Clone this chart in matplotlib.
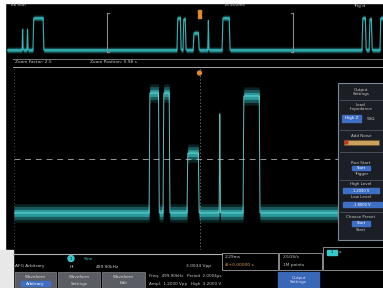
import numpy as np
import matplotlib
matplotlib.use("Agg")
import matplotlib.pyplot as plt
from matplotlib.patches import Rectangle, Circle

# ---------------- data ----------------
# main (zoomed) waveform, time in divisions, level in divisions
main_baseline = -2.37
main_starts = [4.17, 4.60, 5.34, 6.33, 7.07]
main_ends = [4.48, 4.81, 5.71, 6.37, 7.59]
main_levels = [2.9, 2.9, 0.26, 2.15, 2.77]
main_trigger_t = 5.74

# overview waveform (whole record), time 0..10, level 0..1
top_baseline = 0.16
top_starts = [0.40, 0.53, 0.69, 4.52, 4.68, 4.95, 5.34, 5.72, 9.44, 9.63, 9.92]
top_ends = [0.43, 0.56, 0.98, 4.63, 4.76, 5.11, 5.37, 5.93, 9.55, 9.71, 10.5]
top_levels = [0.62, 0.62, 0.80, 0.80, 0.78, 0.50, 0.76, 0.80, 0.80, 0.78, 0.80]
zoom_window = (2.66, 7.61)

header_texts = ["Tek Run", "M 400ms", "Trig'd"]
zoom_texts = ["Zoom Factor: 2.5", "Zoom Position: 0.98 s"]
panel_texts = ["Output\nSettings", "Load\nImpedance", "High Z", "50Ω", "Add Noise",
               "Run Start\nTrigger", "High Level", "1.2000 V", "Low Level",
               "-1.8000 V", "Choose Preset", "Start", "Start"]
status_texts = ["Sine", "AFG Arbitrary", "HI", "499.90kHz", "3.0034 Vpp"]
freq_texts = ["Freq.  499.90kHz   Period  2.0004μs", "Ampl.  1.2000 Vpp   High  3.2000 V"]
button_texts = [("Waveform", "Arbitrary"), ("Waveform", "Settings"), ("Waveform", "Edit")]

CYAN = "#37c6c9"
TXT = "#c8c8c8"
GRID = "#8a8a8a"

W, H, DPI = 383, 288, 100
fig = plt.figure(figsize=(W / DPI, H / DPI), dpi=DPI, facecolor="black")


def build(t0, t1, base, starts, ends, levels, rise):
    ts, ys = [t0], [base]
    for s, e, l in zip(starts, ends, levels):
        if e - s > 2 * rise:
            ts += [s, s + rise, e - rise, e]
            ys += [base, l, l, base]
        else:
            ts += [s, (s + e) / 2, e]
            ys += [base, l, base]
    ts.append(t1)
    ys.append(base)
    return np.array(ts), np.array(ys)


def px_axes(x0, y0, x1, y1):
    return fig.add_axes([x0 / W, 1 - y1 / H, (x1 - x0) / W, (y1 - y0) / H])


# ---------------- overview trace ----------------
ax_top = px_axes(7, 8, 383, 58)
ax_top.set_facecolor("black")
ax_top.set_xlim(0, 10)
ax_top.set_ylim(0, 1)
ax_top.axis("off")
t, y = build(0, 10.5, top_baseline, top_starts, top_ends, top_levels, 0.02)
td = np.linspace(0, 10, 3000)
yd = np.interp(td, t, y)
for h, a in [(0.06, 0.25), (0.035, 0.6)]:
    ax_top.fill_between(td, yd - h, yd + h, color=CYAN, alpha=a, lw=0)
ax_top.plot(td, yd, color=CYAN, lw=0.8, alpha=0.9)
z0, z1 = zoom_window
ax_top.plot([z0, z0], [0.12, 0.9], color=GRID, lw=0.8)
ax_top.plot([z1, z1], [0.12, 0.9], color=GRID, lw=0.8)
ax_top.plot([z0, z0 + 0.05], [0.9, 0.9], color=GRID, lw=0.8)
ax_top.plot([z1 - 0.05, z1], [0.9, 0.9], color=GRID, lw=0.8)
ax_top.plot([z0, z0 + 0.05], [0.12, 0.12], color=GRID, lw=0.8)
ax_top.plot([z1 - 0.05, z1], [0.12, 0.12], color=GRID, lw=0.8)

# ---------------- main trace ----------------
ax = px_axes(14, 68, 338, 250)
ax.set_facecolor("black")
ax.set_xlim(0, 10)
ax.set_ylim(-4, 4)
ax.axis("off")
t, y = build(0, 10, main_baseline, main_starts, main_ends, main_levels, 0.02)
td = np.linspace(0, 10, 5000)
yd = np.interp(td, t, y)
ax.plot([0, 10], [0, 0], color="#bbbbbb", lw=0.7, ls=(0, (6, 5)), alpha=0.8)
ax.plot([main_trigger_t] * 2, [-4, 4], color="#999999", lw=0.6, ls=(0, (1.5, 2.5)), alpha=0.8)
ax.plot([0.01, 0.01], [-4, 4], color="#666666", lw=0.6, ls=(0, (1, 3)))
for h, a in [(0.40, 0.18), (0.28, 0.35), (0.15, 0.6)]:
    ax.fill_between(td, yd - h, yd + h, color=CYAN, alpha=a, lw=0)
ax.plot(td, yd, color="#7fe6e6", lw=0.7, alpha=0.8)

# ---------------- overlay (UI chrome) ----------------
ov = fig.add_axes([0, 0, 1, 1])
ov.set_xlim(0, W)
ov.set_ylim(H, 0)
ov.axis("off")
ov.patch.set_alpha(0)

ov.add_patch(Rectangle((0, 0), W, 3, color="white"))
ov.add_patch(Rectangle((0, 0), 5, H, color="white"))
ov.add_patch(Rectangle((0, 250), 13, H - 250, color="#e8e8e8"))

fs = 3.2
ov.text(9, 5.5, header_texts[0], color=TXT, fontsize=fs, va="center")
ov.text(225, 5.5, header_texts[1], color=TXT, fontsize=fs, va="center")
ov.text(353, 5.5, header_texts[2], color=TXT, fontsize=fs, va="center")
# trigger markers
ov.add_patch(Rectangle((197.5, 10), 3, 4, color="#e08a30"))
ov.add_patch(Rectangle((197.5, 15), 3, 3, color="#e08a30"))
ov.add_patch(Circle((199.5, 73), 2.0, color="#e08a30"))

# zoom info bar
ov.plot([13, W], [58.5, 58.5], color=GRID, lw=0.6)
ov.text(15, 62.3, zoom_texts[0], color=TXT, fontsize=fs, va="center")
ov.text(90, 62.3, zoom_texts[1], color=TXT, fontsize=fs, va="center")
ov.plot([13, W], [66.5, 66.5], color="#aaaaaa", lw=0.7)

# right settings panel
ov.add_patch(Rectangle((338, 83), 46, 157, facecolor="#1b1e25", edgecolor="#7d8796", lw=0.8))
for yy in [100, 130, 152, 180, 212]:
    ov.plot([340, 383], [yy, yy], color="#59606c", lw=0.5)
pfs = 3.0
ov.text(361, 92, panel_texts[0], color=TXT, fontsize=pfs, ha="center", va="center", linespacing=0.9)
ov.text(361, 107, panel_texts[1], color=TXT, fontsize=pfs, ha="center", va="center", linespacing=0.9)
ov.add_patch(Rectangle((342, 115), 19, 7, color="#3f6fc4"))
ov.text(351.5, 118.5, panel_texts[2], color="white", fontsize=pfs, ha="center", va="center")
ov.text(371, 118.5, panel_texts[3], color=TXT, fontsize=pfs, ha="center", va="center")
ov.text(361, 136, panel_texts[4], color=TXT, fontsize=pfs, ha="center", va="center")
ov.add_patch(Rectangle((344, 140), 35, 5, facecolor="#caa060", edgecolor="#6a5030", lw=0.5))
ov.add_patch(Circle((346.5, 142.5), 1.4, color="#d03020"))
ov.text(361, 163, panel_texts[5].split("\n")[0], color=TXT, fontsize=pfs, ha="center", va="center")
ov.add_patch(Rectangle((352, 165.5), 18, 4.5, color="#3f6fc4"))
ov.text(361, 167.7, "Start", color="white", fontsize=2.6, ha="center", va="center")
ov.text(361, 173.5, panel_texts[5].split("\n")[1], color=TXT, fontsize=pfs, ha="center", va="center")
ov.text(361, 184.5, panel_texts[6], color=TXT, fontsize=pfs, ha="center", va="center")
ov.add_patch(Rectangle((343, 188), 36, 5, color="#3f6fc4"))
ov.text(361, 190.5, panel_texts[7], color="white", fontsize=2.6, ha="center", va="center")
ov.text(361, 197.5, panel_texts[8], color=TXT, fontsize=pfs, ha="center", va="center")
ov.add_patch(Rectangle((343, 202), 39, 5, color="#3f6fc4"))
ov.text(362, 204.5, panel_texts[9], color="white", fontsize=2.6, ha="center", va="center")
ov.text(361, 217, panel_texts[10], color=TXT, fontsize=pfs, ha="center", va="center")
ov.add_patch(Rectangle((352, 221), 18, 4.5, color="#3f6fc4"))
ov.text(361, 223.2, panel_texts[11], color="white", fontsize=2.6, ha="center", va="center")
ov.text(361, 230, panel_texts[12], color=TXT, fontsize=pfs, ha="center", va="center")

# bottom status area
ov.plot([13, 222], [254, 254], color="#b0b0b0", lw=0.8)
ov.add_patch(Circle((71, 258.5), 3.0, color=CYAN))
ov.text(71, 258.6, "1", color="black", fontsize=2.4, ha="center", va="center")
ov.text(84, 258.5, status_texts[0], color=CYAN, fontsize=fs, va="center")
ov.text(15, 266.5, status_texts[1], color=TXT, fontsize=fs, va="center")
ov.text(70, 266.5, status_texts[2], color=TXT, fontsize=fs, va="center")
ov.text(96, 266.5, status_texts[3], color=TXT, fontsize=fs, va="center")
ov.text(186, 266.5, status_texts[4], color=TXT, fontsize=fs, va="center")

ov.add_patch(Rectangle((222, 253), 56, 17, facecolor="black", edgecolor=GRID, lw=0.7))
ov.text(225, 257.5, "2.29ms", color=TXT, fontsize=fs, va="center")
ov.text(225, 265, "⊕+0.00000 s", color="#e09a40", fontsize=fs, va="center")
ov.add_patch(Rectangle((279, 253), 43, 17, facecolor="black", edgecolor=GRID, lw=0.7))
ov.text(283, 257.5, "2.5GS/s", color=TXT, fontsize=fs, va="center")
ov.text(283, 265, "1M points", color=TXT, fontsize=fs, va="center")
ov.add_patch(Rectangle((323, 247), 62, 23, facecolor="black", edgecolor=GRID, lw=0.7))
ov.add_patch(Rectangle((327, 249.5), 10, 5, color=CYAN))
ov.text(332, 252, "1", color="black", fontsize=2.4, ha="center", va="center")
ov.text(339, 252, "ⅹ", color=TXT, fontsize=fs, va="center")

# bottom buttons
bx = [(15, 56), (58, 100), (102, 145)]
for i, (a, b) in enumerate(bx):
    ov.add_patch(Rectangle((a, 272), b - a, 16, facecolor="#5a5d63", edgecolor="#888", lw=0.5))
    ov.text((a + b) / 2, 277, button_texts[i][0], color="#dddddd", fontsize=3.0, ha="center", va="center")
    if i == 0:
        ov.add_patch(Rectangle((a + 6, 281), b - a - 12, 5, color="#3f6fc4"))
        ov.text((a + b) / 2, 283.5, button_texts[i][1], color="white", fontsize=3.0, ha="center", va="center")
    else:
        ov.text((a + b) / 2, 283.5, button_texts[i][1], color="#dddddd", fontsize=3.0, ha="center", va="center")
ov.text(149, 276.5, freq_texts[0], color=TXT, fontsize=3.0, va="center")
ov.text(149, 283.5, freq_texts[1], color=TXT, fontsize=3.0, va="center")
ov.add_patch(Rectangle((278, 272), 41, 17, color="#3a67b8"))
ov.text(298.5, 280, "Output\nSettings", color="#dfe6f5", fontsize=3.0, ha="center", va="center", linespacing=0.9)

fig.savefig("out.png", dpi=DPI, facecolor="black")
